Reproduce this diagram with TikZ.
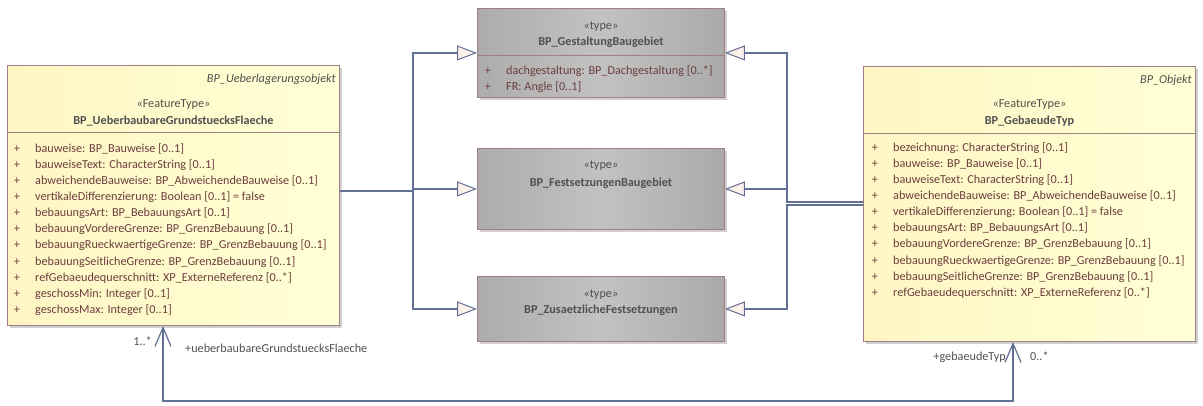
\documentclass[tikz,border=0pt]{standalone}
\usepackage{fontspec}
\setmainfont{Carlito}
\usetikzlibrary{arrows.meta,shadows,calc}
\definecolor{umlline}{RGB}{98,112,150}
\definecolor{umlarrow}{RGB}{251,240,234}
\definecolor{umlborder}{RGB}{160,128,128}
\definecolor{umlattr}{RGB}{108,62,62}
\definecolor{umlhead}{RGB}{80,80,80}
\definecolor{featleft}{RGB}{255,246,196}
\definecolor{featright}{RGB}{255,255,214}
\definecolor{typeleft}{RGB}{172,172,172}
\definecolor{typemid}{RGB}{194,194,194}
\definecolor{typeright}{RGB}{170,170,170}
\definecolor{umlshadow}{RGB}{208,208,208}
\tikzset{
	umlfont/.style={font=\fontsize{12.2pt}{14pt}\selectfont},
	classbox/.style={draw=umlborder, line width=0.9pt, rectangle, inner sep=0pt, anchor=north west,
		drop shadow={shadow xshift=3pt, shadow yshift=-3pt, fill=umlshadow, opacity=1}},
	featbox/.style={classbox, left color=featleft, right color=featright, minimum width=332pt},
	typebox/.style={classbox, left color=typeleft, right color=typeright, middle color=typemid, minimum width=247pt},
	sep/.style={draw=umlborder, line width=0.9pt},
	txt/.style={umlfont, inner sep=0pt, text height=0.66em, text depth=0.2em, yshift=-2pt},
	attr/.style={txt, anchor=west, text=umlattr},
	vis/.style={txt, text=umlattr},
	stereo/.style={txt, text=umlhead},
	cname/.style={txt, text=umlhead, font=\fontsize{12.2pt}{14pt}\selectfont\bfseries},
	parent/.style={txt, anchor=east, text=umlhead, font=\fontsize{12.2pt}{14pt}\selectfont\itshape},
	role/.style={txt, text=umlhead},
	link/.style={draw=umlline, line width=1.2pt},
	gen/.style={link, {Triangle[length=20pt, width=15pt, fill=umlarrow, line width=1pt]}-},
	assoc/.style={link, {Straight Barb[length=19pt, width=16pt]}-{Straight Barb[length=19pt, width=16pt]}}
}

\begin{document}
\begin{tikzpicture}[x=1pt,y=-1pt]
	%%%%% START %%%%%
	\useasboundingbox (0,0) rectangle (1203,405);
	
	% classes
	\node[featbox, minimum height=260pt] (flaeche) at (7,65) {};
	\node[featbox, minimum height=275pt] (gebtyp) at (863,66) {};
	\node[typebox, minimum height=89pt] (gestaltung) at (477,8) {};
	\node[typebox, minimum height=81pt] (festsetz) at (477,148) {};
	\node[typebox, minimum height=65pt] (zusatz) at (477,276) {};
	
	% BP_UeberbaubareGrundstuecksFlaeche
	\node[parent] (flaeche-p) at ($(flaeche.north east)+(-4,13)$) {BP\_Ueberlagerungsobjekt};
	\node[stereo] (flaeche-s) at ($(flaeche.north)+(0,38)$) {«FeatureType»};
	\node[cname] (flaeche-n) at ($(flaeche.north)+(0,55)$) {BP\_UeberbaubareGrundstuecksFlaeche};
	\draw[sep] ($(flaeche.north west)+(0,67)$) -- ($(flaeche.north east)+(0,67)$);
	\foreach \a [count=\i, evaluate=\i as \yy using 83+(\i-1)*16.1] in {
		{bauweise: BP\_Bauweise [0..1]},
		{bauweiseText: CharacterString [0..1]},
		{abweichendeBauweise: BP\_AbweichendeBauweise [0..1]},
		{vertikaleDifferenzierung: Boolean [0..1] = false},
		{bebauungsArt: BP\_BebauungsArt [0..1]},
		{bebauungVordereGrenze: BP\_GrenzBebauung [0..1]},
		{bebauungRueckwaertigeGrenze: BP\_GrenzBebauung [0..1]},
		{bebauungSeitlicheGrenze: BP\_GrenzBebauung [0..1]},
		{refGebaeudequerschnitt: XP\_ExterneReferenz [0..*]},
		{geschossMin: Integer [0..1]},
		{geschossMax: Integer [0..1]}}{
		\node[vis] (flaeche-v\i) at ($(flaeche.north west)+(10,\yy)$) {+};
		\node[attr] (flaeche-a\i) at ($(flaeche.north west)+(28,\yy)$) {\a};
	}
	
	% BP_GebaeudeTyp
	\node[parent] (gebtyp-p) at ($(gebtyp.north east)+(-4,13)$) {BP\_Objekt};
	\node[stereo] (gebtyp-s) at ($(gebtyp.north)+(0,37)$) {«FeatureType»};
	\node[cname] (gebtyp-n) at ($(gebtyp.north)+(0,54)$) {BP\_GebaeudeTyp};
	\draw[sep] ($(gebtyp.north west)+(0,67)$) -- ($(gebtyp.north east)+(0,67)$);
	\foreach \a [count=\i, evaluate=\i as \yy using 81+(\i-1)*16.1] in {
		{bezeichnung: CharacterString [0..1]},
		{bauweise: BP\_Bauweise [0..1]},
		{bauweiseText: CharacterString [0..1]},
		{abweichendeBauweise: BP\_AbweichendeBauweise [0..1]},
		{vertikaleDifferenzierung: Boolean [0..1] = false},
		{bebauungsArt: BP\_BebauungsArt [0..1]},
		{bebauungVordereGrenze: BP\_GrenzBebauung [0..1]},
		{bebauungRueckwaertigeGrenze: BP\_GrenzBebauung [0..1]},
		{bebauungSeitlicheGrenze: BP\_GrenzBebauung [0..1]},
		{refGebaeudequerschnitt: XP\_ExterneReferenz [0..*]}}{
		\node[vis] (gebtyp-v\i) at ($(gebtyp.north west)+(12,\yy)$) {+};
		\node[attr] (gebtyp-a\i) at ($(gebtyp.north west)+(30,\yy)$) {\a};
	}
	
	% types
	\node[stereo] (gestaltung-s) at ($(gestaltung.north)+(0,17)$) {«type»};
	\node[cname] (gestaltung-n) at ($(gestaltung.north)+(0,33)$) {BP\_GestaltungBaugebiet};
	\draw[sep] ($(gestaltung.north west)+(0,47)$) -- ($(gestaltung.north east)+(0,47)$);
	\node[vis] (gestaltung-v1) at ($(gestaltung.north west)+(11,62)$) {+};
	\node[attr] (gestaltung-a1) at ($(gestaltung.north west)+(29,62)$) {dachgestaltung: BP\_Dachgestaltung [0..*]};
	\node[vis] (gestaltung-v2) at ($(gestaltung.north west)+(11,78)$) {+};
	\node[attr] (gestaltung-a2) at ($(gestaltung.north west)+(29,78)$) {FR: Angle [0..1]};
	
	\node[stereo] (festsetz-s) at ($(festsetz.north)+(0,16)$) {«type»};
	\node[cname] (festsetz-n) at ($(festsetz.north)+(0,34)$) {BP\_FestsetzungenBaugebiet};
	
	\node[stereo] (zusatz-s) at ($(zusatz.north)+(0,17)$) {«type»};
	\node[cname] (zusatz-n) at ($(zusatz.north)+(0,33)$) {BP\_ZusaetzlicheFestsetzungen};
	
	% generalizations
	\coordinate (lk) at (413,191);
	\coordinate (rk1) at (787,202);
	\coordinate (rk2) at (787,205);
	\draw[link] (flaeche.east |- lk) -- (lk);
	\draw[gen] (gestaltung.west) -| (lk);
	\draw[gen] (festsetz.west) -- (festsetz.west -| lk);
	\draw[gen] (zusatz.west) -| (lk);
	\draw[gen] (gestaltung.east) -| (rk1) -- (rk1 -| gebtyp.west);
	\draw[gen] (festsetz.east) -- (festsetz.east -| rk1);
	\draw[gen] (zusatz.east) -| (rk2) -- (rk2 -| gebtyp.west);
	
	% association
	\coordinate (au) at (163,401);
	\coordinate (ag) at (1013,401);
	\draw[assoc] (flaeche.south -| au) -- (au) -- (ag) -- (gebtyp.south -| ag);
	\node[role, anchor=east] (mult-f) at (152,341) {1..*};
	\node[role, anchor=west] (role-f) at (185,348) {+ueberbaubareGrundstuecksFlaeche};
	\node[role, anchor=east] (role-g) at (1006,356) {+gebaeudeTyp};
	\node[role, anchor=west] (mult-g) at (1030,356) {0..*};
	%%%%% END %%%%%
\end{tikzpicture}
\end{document}
